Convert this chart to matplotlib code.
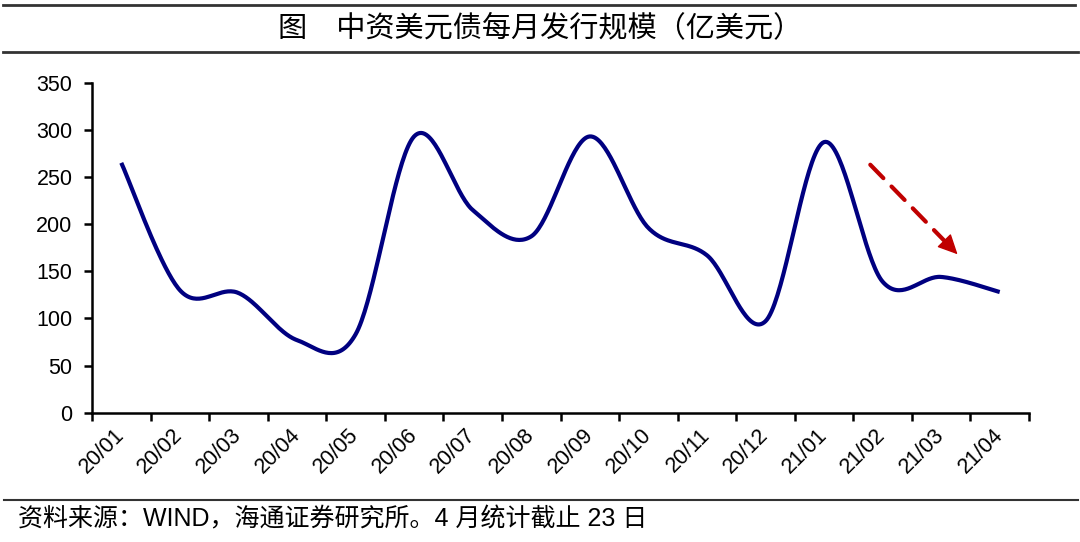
import numpy as np
import matplotlib
matplotlib.use("Agg")
import matplotlib.pyplot as plt
from matplotlib.lines import Line2D

plt.rcParams['font.family'] = ['Liberation Sans', 'Noto Sans CJK SC', 'DejaVu Sans']

# data (亿美元)
months = ["20/01", "20/02", "20/03", "20/04", "20/05", "20/06", "20/07", "20/08",
          "20/09", "20/10", "20/11", "20/12", "21/01", "21/02", "21/03", "21/04"]
issuance = [265, 130, 127, 77, 83, 293, 215, 187, 293, 196, 167, 97, 287, 139, 144, 128]

# trend arrow (category index, value)
arrow_start = [12.79, 263]
arrow_end = [14.28, 168]

title = "图　中资美元债每月发行规模（亿美元）"
source = "资料来源：WIND，海通证券研究所。4 月统计截止 23 日"

fig = plt.figure(figsize=(10.8, 5.42), dpi=100)
ax = fig.add_axes([92 / 1080, 1 - 412.7 / 542, (1029 - 92) / 1080, 330 / 542])

n = len(months)
ax.set_xlim(-0.5, n - 0.5)
ax.set_ylim(0, 350)


def smooth_line(ax, xs, ys, steps=40):
    # excel-like smoothed line: bezier with control points at 1/6 of the neighbour chord
    pts = ax.transData.transform(np.column_stack([xs, ys]))
    m = len(pts)
    out = [pts[0]]
    t = np.linspace(0, 1, steps)[1:, None]
    for i in range(m - 1):
        p0 = pts[i - 1] if i > 0 else pts[i]
        p1 = pts[i]
        p2 = pts[i + 1]
        p3 = pts[i + 2] if i + 2 < m else pts[i + 1]
        c1 = p1 + (p2 - p0) / 6
        c2 = p2 - (p3 - p1) / 6
        b = (1 - t) ** 3 * p1 + 3 * (1 - t) ** 2 * t * c1 + 3 * (1 - t) * t ** 2 * c2 + t ** 3 * p2
        out.extend(b)
    out = ax.transData.inverted().transform(np.array(out))
    return out[:, 0], out[:, 1]


sx, sy = smooth_line(ax, np.arange(n), issuance)
ax.plot(sx, sy, color='#000080', lw=3, solid_capstyle='butt', zorder=3)

# dashed shaft, then a solid head on the last bit
a0 = np.array(arrow_start, dtype=float)
a1 = np.array(arrow_end, dtype=float)
neck = a0 + (a1 - a0) * 0.86
ax.annotate('', xy=neck, xytext=a0,
            arrowprops=dict(arrowstyle='-', color='#C00000', lw=3,
                            linestyle=(0, (4.5, 2.8)), shrinkA=0, shrinkB=0))
ax.annotate('', xy=a1, xytext=neck,
            arrowprops=dict(arrowstyle='-|>,head_length=0.62,head_width=0.3',
                            color='#C00000', lw=1, shrinkA=0, shrinkB=0,
                            mutation_scale=20))

# axes styling
for s in ['top', 'right']:
    ax.spines[s].set_visible(False)
for s in ['left', 'bottom']:
    ax.spines[s].set_linewidth(1.8)
    ax.spines[s].set_color('black')

ax.set_yticks(np.arange(0, 351, 50))
ax.tick_params(axis='y', length=6, width=1.8, labelsize=15.5, pad=8, colors='black')

ax.set_xticks(np.arange(n + 1) - 0.5)
ax.set_xticklabels([])
ax.tick_params(axis='x', which='major', length=6, width=1.8, direction='out')
ax.set_xticks(np.arange(n), minor=True)
ax.set_xticklabels(months, minor=True, rotation=45, ha='right', va='center',
                   rotation_mode='anchor', fontsize=15.5)
ax.tick_params(axis='x', which='minor', length=0, pad=14)

# title, rules and source note
fig.add_artist(Line2D([0.003, 0.995], [1 - 4.5 / 542] * 2, transform=fig.transFigure,
                      color='#333333', lw=2))
fig.add_artist(Line2D([0.003, 0.998], [1 - 51.5 / 542] * 2, transform=fig.transFigure,
                      color='#333333', lw=2))
fig.text(0.5, 1 - 28 / 542, title, ha='center', va='center', fontsize=21,
         family=['Noto Sans CJK SC', 'DejaVu Sans'])
fig.add_artist(Line2D([0.004, 0.998], [1 - 499.5 / 542] * 2, transform=fig.transFigure,
                      color='#333333', lw=1.5))
fig.text(18 / 1080, 1 - 519 / 542, source, ha='left', va='center', fontsize=18)

fig.savefig('out.png', dpi=100)
